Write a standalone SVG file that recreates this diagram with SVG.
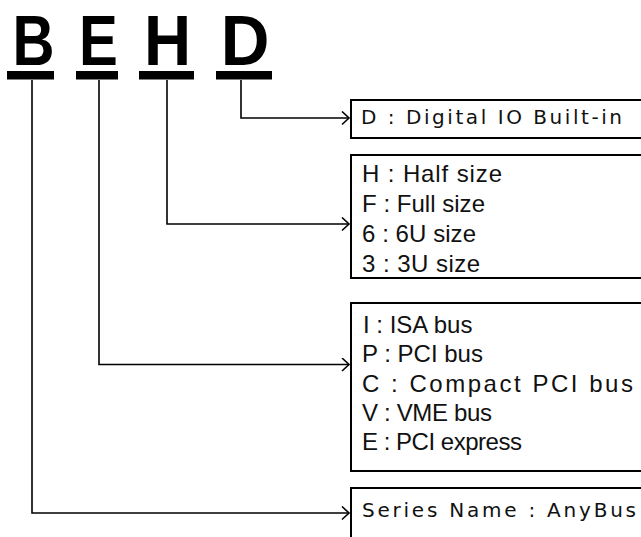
<svg xmlns="http://www.w3.org/2000/svg" width="641" height="537" viewBox="0 0 641 537">
<style>
.big{font-family:"Liberation Sans",Arial,sans-serif;font-weight:bold;font-size:71px;fill:#000;text-anchor:middle}
.t{font-family:"Liberation Sans",Arial,sans-serif;font-size:24px;fill:#111}
.d{font-family:"DejaVu Sans","Liberation Sans",sans-serif;font-size:20px;fill:#111}
.box{fill:#fff;stroke:#000;stroke-width:2}
.con{fill:none;stroke:#000;stroke-width:1.6}
</style>
<defs>
<marker id="arr" markerWidth="10" markerHeight="16" refX="8" refY="7" orient="auto" markerUnits="userSpaceOnUse">
<path d="M1 0.5 L8 7 L1 13.5" fill="none" stroke="#000" stroke-width="1.6"/>
</marker>
</defs>
<rect width="641" height="537" fill="#fff"/>
<g id="letters">
<g id="letter-B"><text class="big" transform="translate(33.5,65) scale(0.82,1)">B</text><rect x="7" y="71" width="47" height="8.5"/></g>
<g id="letter-E"><text class="big" transform="translate(98.5,65) scale(0.82,1)">E</text><rect x="76" y="71" width="42" height="8.5"/></g>
<g id="letter-H"><text class="big" transform="translate(167.5,65) scale(0.92,1)">H</text><rect x="139" y="71" width="55" height="8.5"/></g>
<g id="letter-D"><text class="big" transform="translate(245,65) scale(0.95,1)">D</text><rect x="216" y="71" width="56" height="8.5"/></g>
</g>
<g id="connectors">
<path class="con" d="M241 80 V118 H349" marker-end="url(#arr)"/>
<path class="con" d="M167 80 V224 H349" marker-end="url(#arr)"/>
<path class="con" d="M99 80 V364.5 H349" marker-end="url(#arr)"/>
<path class="con" d="M32 80 V513 H349" marker-end="url(#arr)"/>
</g>
<g id="box-D">
<rect class="box" x="351" y="100" width="300" height="38"/>
<text class="d" x="361" y="124" textLength="261" lengthAdjust="spacing">D : Digital IO Built-in</text>
</g>
<g id="box-H">
<rect class="box" x="351" y="155" width="300" height="123"/>
<text class="t" x="362" y="182" textLength="140" lengthAdjust="spacing">H : Half size</text>
<text class="t" x="362" y="212" textLength="123" lengthAdjust="spacing">F : Full size</text>
<text class="t" x="362" y="242" textLength="114" lengthAdjust="spacing">6 : 6U size</text>
<text class="t" x="362" y="272" textLength="118" lengthAdjust="spacing">3 : 3U size</text>
</g>
<g id="box-E">
<rect class="box" x="351" y="303" width="300" height="168"/>
<text class="t" x="363" y="333">I  : ISA bus</text>
<text class="t" x="362" y="362">P : PCI bus</text>
<text class="t" x="362" y="391.5" textLength="271" lengthAdjust="spacing">C : Compact PCI bus</text>
<text class="t" x="362" y="421" textLength="130" lengthAdjust="spacing">V : VME bus</text>
<text class="t" x="362" y="450" textLength="160" lengthAdjust="spacing">E : PCI express</text>
</g>
<g id="box-B">
<rect class="box" x="351" y="488" width="300" height="70"/>
<text class="d" x="362" y="517" textLength="274" lengthAdjust="spacing">Series Name : AnyBus</text>
</g>
</svg>
